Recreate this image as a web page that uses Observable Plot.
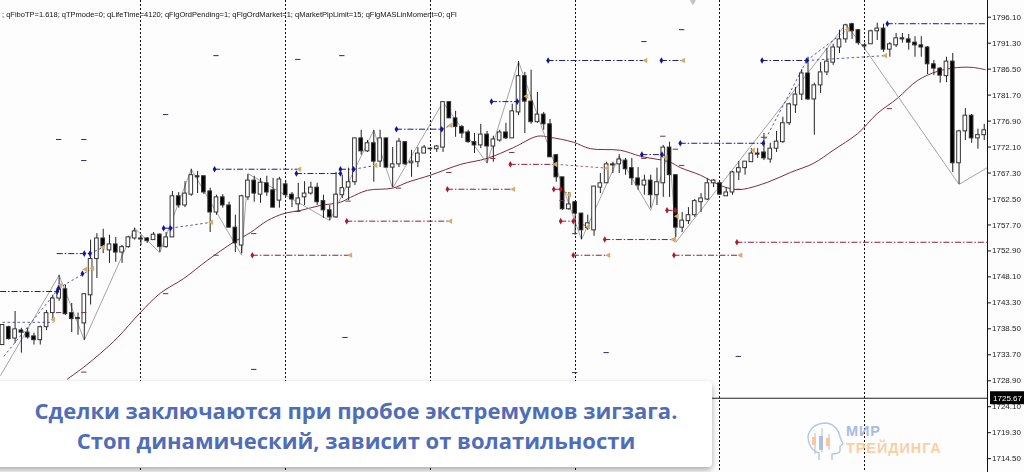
<!DOCTYPE html>
<html><head><meta charset="utf-8">
<script src="https://cdn.jsdelivr.net/npm/d3@7"></script>
<script src="https://cdn.jsdelivr.net/npm/@observablehq/plot@0.6"></script>
<style>
html,body{margin:0;padding:0;background:#fdfdfe;overflow:hidden}
#wrap{position:relative;width:1024px;height:472px;overflow:hidden}
#chart svg{display:block;filter:blur(.3px)}
#params{position:absolute;left:2px;top:10px;font:7.5px "Liberation Sans",sans-serif;color:#111;white-space:nowrap;filter:blur(.2px)}
#panel{position:absolute;left:-6px;top:381px;width:718px;height:86px;background:#fff;border-radius:4px;box-shadow:0 3px 6px rgba(0,0,0,.33);text-align:center;color:#4f6db8;font:700 22px/30px "Open Sans",sans-serif;padding-top:14px;box-sizing:border-box}
#panel div{padding-left:6px}
#logo{position:absolute;left:805px;top:422px;width:40px;height:40px}
.lg{position:absolute;left:846px;font:700 14.5px/16px "Liberation Sans",sans-serif;letter-spacing:.9px;white-space:nowrap}
</style></head><body><div id="wrap"><div id="chart"></div>
<div id="params">; qFiboTP=1.618; qTPmode=0; qLifeTime=4120; qFlgOrdPending=1; qFlgOrdMarket=1; qMarketPipLimit=15; qFlgMASLinMoment=0; qFl</div>
<div id="panel"><div>Сделки заключаются при пробое экстремумов зигзага.</div><div>Стоп динамический, зависит от волатильности</div></div>
<svg id="logo" viewBox="0 0 40 40" fill="none"><path d="M14 38V31C7 29 3 22 3 15C4 6 12 1 21 1C29 2 34 8 35 15L38 22L35 24V29C34 32 30 32 27 32V38" stroke="#b5c6e6" stroke-width="1.4"/><path d="M10 11V32M17 6V30M24 12V28" stroke="#aebfe2"/><path d="M7 15h4v8h-4zM21 16h4v8h-4z" fill="#f9c89a"/><path d="M14 14h4v14h-4z" fill="#aebfe2"/></svg>
<div class="lg" style="top:423px;color:#a9bce0">МИР</div><div class="lg" style="top:440px;color:#fbcfa3">ТРЕЙДИНГА</div>
</div>
<script>
const priceTicks=[1796.10,1791.30,1786.50,1781.70,1776.90,1772.10,1767.30,1762.50,1757.70,1752.90,1748.10,1743.30,1738.50,1733.70,1728.90,1724.10,1719.30,1714.50];
const lastPrice=1725.67;
const sessionBars=[22,45,68,91,114,137];
const highs=[1739.2,1739.0,1741.7,1738.6,1738.6,1737.7,1739.0,1741.9,1744.7,1748.4,1746.6,1743.2,1741.4,1745.0,1754.9,1756.1,1756.9,1755.8,1755.4,1753.9,1755.6,1757.1,1755.8,1755.4,1756.3,1756.1,1756.3,1763.9,1763.7,1765.7,1768.0,1767.6,1766.7,1764.5,1763.2,1763.3,1761.9,1759.5,1763.2,1767.0,1766.7,1766.3,1766.7,1766.3,1766.5,1765.9,1763.7,1765.4,1765.7,1765.6,1765.4,1763.2,1761.3,1767.4,1766.9,1768.2,1773.7,1775.2,1773.3,1775.2,1775.2,1773.7,1772.0,1773.7,1773.0,1771.5,1772.0,1772.4,1772.0,1772.4,1780.5,1780.4,1778.7,1776.1,1775.2,1774.6,1776.3,1775.0,1774.1,1775.2,1776.5,1780.0,1787.9,1785.9,1786.3,1782.2,1778.5,1777.2,1770.6,1766.5,1763.7,1762.1,1759.8,1759.5,1764.8,1767.2,1769.3,1769.3,1770.7,1770.0,1770.0,1768.3,1766.9,1766.9,1768.2,1772.4,1773.0,1766.9,1760.0,1760.9,1762.4,1763.5,1766.3,1766.1,1765.6,1764.6,1767.6,1769.4,1769.4,1771.8,1771.8,1774.6,1772.8,1775.0,1777.6,1780.2,1783.1,1786.4,1788.7,1783.9,1787.7,1790.3,1791.1,1793.7,1794.8,1795.0,1793.8,1791.3,1793.7,1795.0,1794.8,1791.4,1793.1,1793.1,1792.9,1792.5,1792.5,1790.7,1788.1,1786.8,1788.7,1789.4,1775.2,1779.2,1778.1,1775.4,1776.3];
const bodyTops=[1739.2,1738.8,1738.4,1738.2,1737.8,1737.1,1738.8,1741.4,1744.1,1745.8,1745.8,1741.4,1740.5,1744.9,1751.4,1755.2,1755.2,1754.1,1754.1,1753.6,1755.4,1756.5,1755.2,1755.2,1755.9,1755.9,1755.4,1763.0,1763.0,1763.5,1766.9,1766.7,1766.7,1763.9,1762.8,1762.8,1761.3,1757.2,1763.0,1765.9,1765.9,1765.5,1765.4,1764.1,1766.1,1765.2,1763.3,1762.6,1763.5,1764.6,1764.6,1762.1,1760.4,1763.3,1764.5,1765.6,1773.7,1773.7,1772.8,1772.8,1773.7,1773.7,1768.9,1773.1,1773.0,1769.4,1770.9,1772.0,1771.8,1772.2,1780.4,1780.4,1777.4,1775.8,1774.8,1773.0,1774.4,1774.4,1773.5,1774.8,1774.8,1778.7,1785.2,1785.2,1780.5,1778.1,1778.1,1776.3,1770.6,1766.5,1761.5,1761.9,1759.8,1758.0,1764.8,1765.4,1768.9,1768.9,1769.8,1769.6,1768.2,1766.3,1765.9,1765.9,1765.6,1772.0,1772.0,1766.9,1758.5,1759.5,1762.1,1762.6,1765.4,1765.9,1765.4,1763.7,1767.4,1768.2,1769.4,1770.9,1770.9,1771.1,1771.8,1773.1,1776.5,1780.0,1781.8,1785.7,1785.7,1783.5,1785.9,1787.9,1790.5,1792.0,1794.6,1794.8,1793.7,1790.9,1793.5,1794.0,1794.0,1791.1,1792.2,1792.2,1792.0,1791.4,1790.9,1790.5,1787.4,1786.6,1787.9,1787.9,1775.0,1777.9,1777.9,1774.3,1775.2];
const bodyBottoms=[1735.5,1736.6,1736.7,1737.8,1736.9,1736.4,1736.4,1738.8,1741.4,1744.1,1741.2,1740.3,1740.3,1739.5,1744.7,1751.4,1753.7,1753.0,1752.6,1752.6,1753.6,1755.2,1755.0,1754.7,1754.9,1753.6,1753.6,1755.4,1761.3,1761.3,1763.3,1766.5,1763.7,1760.0,1760.0,1761.3,1757.2,1754.3,1753.9,1762.8,1763.5,1763.3,1763.7,1760.9,1762.2,1763.2,1762.4,1761.5,1762.8,1763.5,1761.9,1760.4,1759.1,1759.1,1763.2,1764.6,1765.6,1771.3,1771.3,1769.4,1769.4,1768.3,1768.3,1768.9,1768.9,1769.1,1769.3,1770.9,1771.7,1771.7,1772.0,1777.4,1775.8,1774.6,1773.0,1772.4,1772.4,1772.2,1772.2,1773.3,1773.7,1773.7,1778.5,1780.5,1776.7,1776.7,1776.3,1770.2,1766.5,1760.6,1760.6,1759.8,1756.7,1757.1,1756.7,1764.6,1765.4,1768.7,1768.9,1768.0,1766.3,1765.0,1765.0,1763.2,1763.2,1765.4,1766.9,1757.2,1757.2,1758.4,1759.5,1761.9,1762.4,1765.4,1763.3,1763.0,1763.7,1767.4,1768.2,1769.3,1770.7,1770.0,1769.8,1771.8,1773.0,1776.5,1779.8,1781.8,1780.9,1780.9,1783.5,1785.9,1787.7,1790.5,1792.0,1793.5,1791.3,1790.7,1791.1,1793.5,1790.1,1790.1,1790.9,1792.0,1791.4,1790.9,1790.5,1787.4,1786.6,1785.3,1785.2,1769.1,1769.1,1775.0,1773.7,1773.7,1774.3];
const lows=[1735.5,1736.4,1735.8,1734.0,1736.6,1735.5,1735.5,1738.2,1739.9,1743.6,1741.0,1737.8,1737.3,1736.4,1742.9,1747.8,1752.4,1750.6,1750.8,1750.6,1753.4,1754.9,1753.9,1754.3,1754.9,1752.6,1753.4,1755.4,1760.8,1760.9,1763.0,1763.5,1763.3,1756.3,1759.5,1760.8,1757.1,1752.6,1752.4,1762.2,1761.9,1761.7,1763.0,1760.9,1760.8,1762.8,1760.9,1760.0,1761.3,1763.2,1761.3,1758.9,1758.5,1758.9,1762.6,1762.2,1765.0,1770.6,1771.1,1765.6,1768.3,1768.2,1764.6,1768.3,1768.7,1766.5,1768.3,1770.9,1771.3,1771.1,1771.1,1777.4,1773.9,1773.7,1772.8,1770.9,1771.8,1769.1,1769.3,1773.0,1773.5,1773.7,1777.9,1774.6,1776.3,1776.5,1775.2,1770.2,1765.6,1760.4,1760.4,1755.8,1755.0,1756.7,1755.6,1763.5,1765.4,1767.2,1767.2,1766.9,1765.0,1764.1,1763.2,1760.8,1761.3,1762.8,1762.8,1755.4,1756.3,1757.8,1759.1,1760.0,1762.2,1764.6,1763.2,1763.0,1763.2,1765.9,1766.9,1769.3,1770.0,1769.6,1769.1,1771.1,1772.8,1776.1,1778.3,1780.7,1780.7,1774.3,1782.0,1785.3,1787.2,1789.4,1791.3,1792.0,1790.9,1790.0,1791.1,1791.8,1789.6,1788.7,1790.5,1791.3,1790.0,1788.7,1788.7,1785.5,1785.3,1783.9,1784.0,1767.4,1765.2,1773.3,1772.8,1771.7,1773.3];
const downBars=[1,3,4,5,10,11,12,16,18,22,23,25,28,31,32,33,35,36,37,40,42,43,45,46,50,51,52,57,59,61,64,68,71,72,73,74,75,77,80,83,84,86,87,88,89,91,92,97,99,100,101,103,106,107,114,120,121,128,135,136,137,140,143,144,145,146,147,148,149,151,154];

const maBars=[10.3,12.9,15.6,18.3,21.9,25.1,28.8,32.6,36.7,39.4,42.1,44.7,47.4,50.5,53.7,55.3,58,62,64.4,68,72.8,77,81.2,85,87,90.7,93.4,98.2,101.4,106.1,107.7,110.9,114.1,116.2,117.7,121.6,125.2,128.9,132,135.9,139,142.2,145.4,148.6,151.8,154.3,156.2];
const maPrices=[1729.2,1731.4,1734.0,1736.9,1741.5,1745.1,1747.8,1751.2,1754.5,1756.3,1758.5,1759.8,1760.4,1761.3,1761.9,1762.8,1764.1,1764.5,1765.6,1766.9,1768.9,1770.0,1772.0,1774.1,1773.9,1773.0,1771.8,1771.5,1770.4,1769.3,1768.3,1766.9,1765.0,1764.3,1764.3,1765.6,1767.4,1769.1,1771.5,1774.6,1778.3,1781.1,1784.4,1786.1,1786.8,1786.8,1786.4];
const zigBars=[-0.3,9,13,21,25,30,38,39,52,59,62,70,77,82,92,98,103,106,107,134,137,152,156.5];
const zigPrices=[1729.9,1748.4,1736.4,1757.1,1752.6,1768.0,1752.1,1767.2,1758.5,1775.2,1764.5,1780.4,1769.1,1787.9,1755.0,1770.4,1760.4,1772.0,1754.5,1794.8,1790.3,1765.2,1768.3];

const buyFrom=[-0.3,8.7,25.6,33.7,46.7,53.7,62.6,77.7,86.7,104.7,101.6,107.7,120.7,140.6];
const buyTo=[8.7,13.9,26.7,47,53.7,55.8,69.8,81.8,102.2,108.3,104.8,120.9,127.8,156.5];
const buyPrice=[1745.4,1752.4,1757.1,1768.0,1767.2,1768.0,1775.4,1780.5,1788.1,1788.1,1770.7,1772.8,1788.1,1794.9];
const buyDotBars=[8.7,13,13.9,25.6,26.7,33.7,46.7,53.7,53.7,55.8,62.6,69.8,77.7,81.8,86.7,104.7,101.6,104.8,107.7,120.9,120.7,127.8,140.6,12.7,8.9];
const buyDotPrices=[1745.4,1752.4,1752.4,1757.1,1757.1,1768.0,1767.2,1767.2,1768.0,1768.0,1775.4,1775.4,1780.5,1780.5,1788.1,1788.1,1770.7,1770.7,1772.8,1772.8,1788.1,1788.1,1794.9,1748.7,1746.0];
const buyDashX1=[0,0.2,8.9,13.9,26.7,55.8,69.8,81.8,104.8,120.9,127.8,127.8];
const buyDashY1=[1739.7,1733.4,1746,1752.4,1757.1,1768,1775.4,1780.5,1770.7,1772.8,1788.1,1788.1];
const buyDashX2=[8.1,8.7,13.8,16,33.2,59.3,71.2,83.3,105.4,127.8,140.3,134.2];
const buyDashY2=[1739.7,1745.6,1749.3,1753.6,1758.2,1768.7,1776.1,1781.5,1770.2,1788.1,1789,1793.8];

const sellFrom=[39.7,54.7,70.7,80.7,87.6,88.7,90.7,95.7,105.6,106.7,116.7];
const sellTo=[55.3,71.2,81.2,87.9,88.7,90.7,96.3,106.6,106.9,117.3,156.5];
const sellPrice=[1752.1,1758.4,1764.3,1768.9,1764.3,1758.4,1752.1,1755.0,1760.4,1752.1,1754.5];
const sellDotBars=[39.7,54.7,70.7,80.7,87.6,88.7,90.7,95.7,105.6,106.7,116.7,88.7,90.7,106.9];
const sellDotPrices=[1752.1,1758.4,1764.3,1768.9,1764.3,1758.4,1752.1,1755.0,1760.4,1752.1,1754.5,1764.3,1758.4,1760.4];
const sellDashX1=[87.9,88.7,90.7,106.9];
const sellDashY1=[1768.9,1764.3,1758.4,1760.4];
const sellDashX2=[96.1,90.1,93.1,107.2];
const sellDashY2=[1768.2,1763.3,1757.4,1759.3];

const closeBars=[8.1,9.2,13.2,14.3,16,33.2,47.2,59.3,71.2,83.3,102.2,108.2,105.4,119.3,134.3,140.3,55.3,71.2,81.2,96.1,90.1,93.1,96.3,106.6,107.2,117.3,87.9];
const closePrices=[1740.2,1746.5,1749.5,1749.7,1753.6,1758.2,1768,1768.7,1776.1,1781.5,1788.1,1788.1,1770.2,1771.5,1793.8,1789,1752.1,1758.4,1764.3,1768.2,1763.3,1757.4,1752.1,1755,1759.3,1752.1,1768.9];

const navyTickBars=[34,47,26,9,13,13,54,102,108,40,117,96,54.5,91];
const navyTickPrices=[1789.0,1788.3,1778.1,1773.5,1773.5,1769.6,1789.0,1791.6,1793.8,1731,1733.4,1734.1,1736.9,1730.4];
const redTickBars=[34,13,26,40,47,55,63,71,78,81,105,107,108,102,141,9,13,91,89,117,121];
const redTickPrices=[1752.1,1730.5,1745,1756.1,1760.2,1762.1,1764.5,1767.4,1770,1771.1,1774.1,1771.7,1768.7,1770,1779.2,1741.5,1741.5,1756.1,1762.2,1764.3,1773.9];

const idx=d3.range(highs.length);
const isDown=new Set(downBars);
const seg=(a,b,c,d)=>a.map((_,i)=>({x1:a[i],y1:b[i],x2:c[i],y2:d[i]}));
const pts=(a,b)=>a.map((_,i)=>({x:a[i],y:b[i]}));
const hl=(a,b,c)=>a.map((_,i)=>({x1:a[i],x2:b[i],y:c[i]}));
const ticks=(a,b)=>a.map((_,i)=>({x1:a[i]-.42,x2:a[i]+.42,y:b[i]}));
const NAVY="#1c1c86",RED="#8a2036",DOT_R="#b01a30",TAN="#d2ae6c",DD="6,2,1.5,2";

const plot=Plot.plot({
  width:1024,height:472,marginTop:0,marginBottom:0,marginLeft:0,marginRight:37,
  style:{background:"#fdfdfe",overflow:"hidden"},
  x:{type:"linear",domain:[-0.318,156.52],range:[0,987],axis:null},
  y:{type:"linear",domain:[1711.94,1799.19],range:[472,0],axis:null},
  marks:[
    Plot.ruleX(sessionBars,{x:d=>d,stroke:"#111",strokeWidth:1,strokeDasharray:"1.5,2.5",shapeRendering:"crispEdges"}),
    Plot.ruleY([lastPrice],{x1:-0.318,x2:156.52,stroke:"#222",strokeWidth:1.1}),
    Plot.line(pts(maBars,maPrices),{x:"x",y:"y",stroke:"#7d2a40",strokeWidth:1,curve:"catmull-rom"}),
    Plot.line(pts(zigBars,zigPrices),{x:"x",y:"y",stroke:"#9a9a9a",strokeWidth:.9}),
    Plot.ruleX(idx,{x:i=>i,y1:i=>lows[i],y2:i=>highs[i],stroke:"#222",strokeWidth:1}),
    Plot.rect(idx,{x1:i=>i-.29,x2:i=>i+.29,y1:i=>bodyBottoms[i],y2:i=>bodyTops[i],fill:i=>isDown.has(i)?"#000":"#fff",stroke:"#333",strokeWidth:1}),
    Plot.ruleY(hl(buyFrom,buyTo,buyPrice),{x1:"x1",x2:"x2",y:"y",stroke:NAVY,strokeWidth:1,strokeDasharray:DD}),
    Plot.link(seg(buyDashX1,buyDashY1,buyDashX2,buyDashY2),{x1:"x1",y1:"y1",x2:"x2",y2:"y2",stroke:NAVY,strokeWidth:.9,strokeDasharray:"2.5,2.5",strokeOpacity:.8}),
    Plot.ruleY(hl(sellFrom,sellTo,sellPrice),{x1:"x1",x2:"x2",y:"y",stroke:RED,strokeWidth:1,strokeDasharray:DD}),
    Plot.link(seg(sellDashX1,sellDashY1,sellDashX2,sellDashY2),{x1:"x1",y1:"y1",x2:"x2",y2:"y2",stroke:RED,strokeWidth:.9,strokeDasharray:"2.5,2.5",strokeOpacity:.8}),
    Plot.ruleY(ticks(navyTickBars,navyTickPrices),{x1:"x1",x2:"x2",y:"y",stroke:"#2a2a66",strokeWidth:1}),
    Plot.ruleY(ticks(redTickBars,redTickPrices),{x1:"x1",x2:"x2",y:"y",stroke:"#7a3040",strokeWidth:1}),
    Plot.dot(pts(closeBars,closePrices),{x:"x",y:"y",symbol:"triangle",rotate:-90,r:2.1,fill:TAN}),
    Plot.dot(pts(buyDotBars,buyDotPrices),{x:"x",y:"y",symbol:"diamond",r:2,fill:"#1414a0"}),
    Plot.dot(pts(sellDotBars,sellDotPrices),{x:"x",y:"y",symbol:"diamond",r:2,fill:DOT_R}),
    Plot.dot([{x:109.7,y:1799.19}],{x:"x",y:"y",symbol:"diamond",r:3,fill:"#c4c4c4"}),
    Plot.ruleX([156.52],{stroke:"#111",strokeWidth:1}),
    Plot.axisY({anchor:"right",ticks:priceTicks,tickFormat:d3.format(".2f"),tickSize:3,tickPadding:1.5,label:null,fontSize:8,fontFamily:"Liberation Sans",stroke:"#111",fill:"#222"}),
    Plot.rect([lastPrice],{x1:()=>157,x2:()=>163,y1:d=>d-1.2,y2:d=>d+1.2,fill:"#000",clip:false}),
    Plot.text([lastPrice],{x:()=>157.4,y:d=>d,text:d=>d.toFixed(2),textAnchor:"start",fill:"#fff",fontSize:8,fontFamily:"Liberation Sans",clip:false})
  ]
});
document.getElementById("chart").appendChild(plot);
</script></body></html>
